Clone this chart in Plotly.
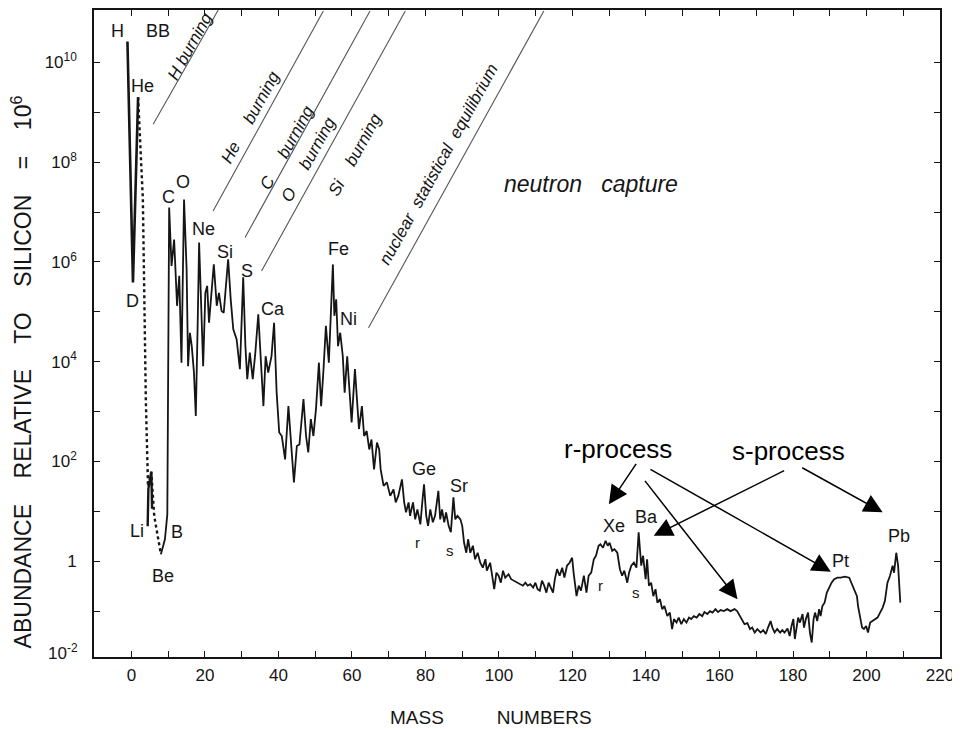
import plotly.graph_objects as go

# ---------------- data ----------------
# H -> D -> He (solid)
light_mass = [-1.1, 0.4, 1.8]
light_log = [10.42, 5.59, 9.30]

# He -> Li -> Be (dashed)
dashed_mass = [1.8, 3.1, 3.9, 4.5, 5.4, 6.2, 8.0]
dashed_log = [9.30, 7.25, 3.25, 1.50, 1.78, 0.90, 0.14]

# Li (short solid piece)
li_mass = [4.4, 4.6, 5.4, 5.6]
li_log = [0.70, 1.45, 1.80, 1.05]

# main abundance curve, Be -> Bi
mass = [
    8.0, 9.1, 9.75, 10.25, 10.9, 11.6, 12.4, 13.0, 13.6, 14.3,
    15.0, 15.4, 15.9, 16.4, 17.0, 17.5, 18.0, 18.4, 19.0, 19.5,
    20.1, 20.6, 21.1, 21.8, 22.4, 23.2, 23.8, 24.5, 25.1, 25.7,
    26.3, 27.0, 27.7, 28.6, 29.5, 30.4, 31.0, 31.5, 32.2, 33.0,
    33.7, 34.5, 35.1, 35.9, 36.5, 37.2, 38.1, 38.8, 39.5, 40.2,
    40.9, 41.8, 42.7, 43.6, 44.2, 45.0, 45.7, 46.8, 47.5, 48.1,
    48.8, 49.5, 50.2, 51.0, 51.6, 52.2, 52.9, 53.7, 54.2, 54.8,
    55.2, 55.7, 56.2, 56.8, 57.5, 58.0, 58.7, 59.3, 59.9, 60.8,
    61.4, 61.9, 62.7, 63.3, 64.0, 64.7, 65.3, 66.0, 66.8, 67.4,
    67.8, 68.6, 69.5, 70.4, 71.3, 71.9, 72.6, 73.6, 74.2, 74.7,
    75.4, 75.8, 76.6, 77.2, 77.8, 78.6, 79.2, 79.6, 80.2, 80.7,
    81.3, 82.0, 82.6, 83.5, 84.0, 84.5, 85.1, 85.6, 86.3, 86.9,
    87.6, 88.1, 88.7, 89.5, 90.0, 90.5, 91.1, 91.6, 92.2, 92.9,
    93.5, 94.2, 94.9, 95.6, 96.3, 96.7, 97.6, 98.1, 98.7, 99.3,
    99.9, 100.5, 101.1, 101.7, 102.6, 103.3, 104.0, 104.9, 105.8, 106.5,
    107.2, 107.8, 108.5, 109.3, 109.9, 110.5, 111.1, 111.7, 112.3, 112.9,
    113.5, 114.2, 114.7, 115.2, 115.8, 116.5, 117.2, 117.8, 118.5, 119.2,
    119.9, 120.3, 121.1, 121.7, 122.3, 123.1, 123.8, 124.4, 125.1, 125.8,
    126.4, 127.1, 127.6, 128.3, 129.0, 129.6, 130.1, 130.8, 131.4, 132.2,
    132.9, 133.5, 134.1, 134.9, 135.4, 136.0, 136.7, 137.4, 138.0, 138.7,
    139.2, 139.9, 140.3, 140.8, 141.4, 142.0, 142.6, 143.1, 143.8, 144.4,
    145.0, 145.8, 146.5, 147.1, 147.6, 148.3, 148.9, 149.6, 150.3, 151.0,
    151.7, 152.3, 153.0, 153.8, 154.5, 155.3, 155.9, 156.7, 157.4, 158.1,
    158.9, 159.6, 160.3, 161.2, 162.1, 163.0, 164.1, 164.8, 165.6, 166.2,
    166.8, 167.6, 168.3, 168.9, 169.6, 170.3, 171.2, 171.9, 172.6, 173.2,
    173.9, 174.4, 175.0, 175.7, 176.5, 177.1, 177.7, 178.5, 179.1, 179.6,
    180.1, 180.5, 181.0, 181.4, 181.9, 182.6, 183.0, 183.5, 184.1, 184.6,
    185.1, 185.6, 186.0, 186.6, 187.1, 187.5, 188.0, 188.6, 189.2, 189.8,
    190.5, 191.2, 192.1, 193.0, 194.1, 195.3, 195.9, 196.6, 197.4, 197.7,
    198.3, 198.8, 199.3, 199.9, 200.4, 201.0, 201.6, 202.3, 203.0, 203.7,
    204.4, 205.0, 205.7, 206.4, 207.1, 207.5, 208.1, 208.6, 209.2,
]
log_abundance = [
    0.14, 0.44, 0.94, 7.09, 5.92, 6.45, 5.12, 5.72, 3.98, 7.25,
    5.85, 3.91, 4.58, 4.31, 3.78, 2.91, 4.72, 6.39, 5.05, 3.91,
    5.38, 5.52, 4.78, 5.52, 5.95, 5.12, 5.38, 5.02, 4.98, 5.52,
    6.05, 5.25, 4.65, 4.45, 3.85, 5.69, 4.31, 3.65, 4.18, 3.65,
    4.18, 4.95, 4.05, 3.11, 4.11, 3.78, 4.11, 4.78, 3.38, 2.58,
    2.51, 2.04, 3.11, 2.18, 1.58, 2.31, 2.34, 3.25, 2.51, 2.18,
    2.85, 2.51, 3.05, 3.98, 3.11, 3.78, 4.72, 3.98, 4.78, 5.95,
    4.92, 5.25, 4.31, 4.58, 4.11, 3.38, 4.11, 3.51, 2.78, 3.85,
    3.25, 2.65, 3.11, 2.51, 2.61, 2.24, 2.44, 1.84, 2.38, 2.24,
    1.84, 1.51, 1.58, 1.31, 1.44, 1.18, 1.31, 1.64, 1.18, 0.98,
    1.18, 0.91, 1.18, 0.84, 1.04, 0.74, 1.24, 1.54, 0.91, 0.71,
    1.04, 0.78, 0.91, 1.41, 0.84, 1.04, 0.78, 0.98, 0.71, 0.58,
    1.28, 0.84, 0.91, 0.84, 0.71, 0.37, 0.17, 0.44, 0.17, 0.31,
    0.04, 0.17, -0.03, -0.13, 0.04, -0.19, -0.03, -0.29, -0.56, -0.23,
    -0.29, -0.43, -0.19, -0.33, -0.26, -0.36, -0.39, -0.43, -0.46, -0.49,
    -0.43, -0.49, -0.46, -0.53, -0.43, -0.56, -0.59, -0.39, -0.49, -0.63,
    -0.43, -0.53, -0.63, -0.36, -0.16, -0.29, -0.13, -0.33, -0.09, -0.03,
    0.07, -0.23, -0.70, -0.49, -0.59, -0.29, -0.63, -0.29, -0.23, 0.04,
    0.11, 0.31, 0.34, 0.27, 0.41, 0.31, 0.37, 0.21, 0.24, 0.17,
    -0.16, -0.29, -0.19, -0.43, -0.23, -0.09, -0.03, -0.13, 0.58, -0.09,
    0.11, -0.36, 0.04, -0.49, -0.43, -0.70, -0.56, -0.83, -0.76, -0.96,
    -0.90, -1.10, -1.03, -1.36, -1.16, -1.23, -1.13, -1.26, -1.16, -1.23,
    -1.13, -1.16, -1.10, -1.13, -1.06, -1.10, -1.02, -1.06, -1.00, -1.03,
    -0.96, -1.02, -0.98, -1.00, -0.96, -1.00, -0.96, -1.00, -1.10, -1.16,
    -1.26, -1.24, -1.36, -1.33, -1.43, -1.36, -1.43, -1.38, -1.46, -1.33,
    -1.20, -1.33, -1.43, -1.36, -1.43, -1.38, -1.43, -1.35, -1.50, -1.30,
    -1.16, -1.56, -1.30, -1.13, -1.23, -1.06, -1.33, -1.16, -1.03, -1.43,
    -1.63, -1.16, -1.03, -1.20, -0.96, -1.10, -0.90, -0.83, -0.63, -0.53,
    -0.43, -0.36, -0.33, -0.33, -0.31, -0.33, -0.43, -0.56, -0.70, -0.90,
    -1.10, -1.33, -1.36, -1.30, -1.43, -1.23, -1.20, -1.16, -1.13, -1.03,
    -0.93, -0.80, -0.43, -0.29, -0.09, -0.23, 0.17, -0.09, -0.83,
]
assert len(mass) == len(log_abundance)

# diagonal process-boundary lines (mass, log10 abundance) at both ends
boundary_mass = [[5.9, 23.6], [22.2, 52.2], [30.9, 64.9], [35.4, 74.5], [64.5, 112.2]]
boundary_log = [[8.76, 11.05], [7.02, 11.03], [6.49, 11.03], [5.82, 11.03], [4.68, 11.03]]

# element labels: text, mass position, log10 position
element_text = ["H", "BB", "He", "D", "Li", "Be", "B", "C", "O", "Ne", "Si", "S", "Ca",
                "Fe", "Ni", "Ge", "Sr", "r", "s", "Xe", "r", "Ba", "s", "Pt", "Pb"]
element_x = [-3.7, 7.2, 3.1, 0.35, 1.4, 8.6, 12.3, 10.0, 14.1, 19.5, 25.4, 31.3, 38.6,
             56.2, 59.0, 79.5, 89.0, 77.7, 86.7, 131.2, 127.6, 140.1, 137.4, 193.0, 208.9]
element_y = [10.62, 10.62, 9.52, 5.21, 0.61, -0.29, 0.58, 7.31, 7.60, 6.65, 6.19, 5.81, 5.05,
             6.25, 4.85, 1.84, 1.51, 0.37, 0.21, 0.71, -0.49, 0.88, -0.63, 0.01, 0.51]

# rotated process texts
process_text = ["H burning", "He     burning", "C     burning", "O     burning",
                "Si    burning", "nuclear  statistical  equilibrium"]
process_x = [15.9, 32.3, 42.3, 48.1, 60.8, 83.5]
process_y = [10.32, 8.90, 8.30, 8.06, 8.16, 7.96]

# arrows (tail -> head)
arrow_tail_x = [137.6, 139.4, 140.8, 178.0, 182.1]
arrow_tail_y = [1.98, 1.64, 1.86, 1.83, 1.89]
arrow_head_x = [129.9, 164.9, 190.3, 142.1, 204.4]
arrow_head_y = [1.14, -0.76, -0.21, 0.51, 0.98]

y_major_exp = [0, 2, 4, 6, 8, 10]
y_major_text = ["1", "10<sup>2</sup>", "10<sup>4</sup>", "10<sup>6</sup>",
                "10<sup>8</sup>", "10<sup>10</sup>"]
y_minor_exp = [-1, 1, 3, 5, 7, 9]
x_major = list(range(0, 221, 20))
x_minor = list(range(10, 220, 20))

FONT = "Liberation Sans, Arial, sans-serif"
INK = "#151515"

# ---------------- figure ----------------
fig = go.Figure()

fig.add_trace(go.Scatter(x=light_mass, y=[10 ** v for v in light_log], mode="lines",
                         line=dict(color=INK, width=2.6), hoverinfo="skip"))
fig.add_trace(go.Scatter(x=dashed_mass, y=[10 ** v for v in dashed_log], mode="lines",
                         line=dict(color=INK, width=2.4, dash="dot"), hoverinfo="skip"))
fig.add_trace(go.Scatter(x=li_mass, y=[10 ** v for v in li_log], mode="lines",
                         line=dict(color=INK, width=2.4), hoverinfo="skip"))
fig.add_trace(go.Scatter(x=mass, y=[10 ** v for v in log_abundance], mode="lines",
                         line=dict(color=INK, width=1.8), hoverinfo="skip"))

for bx, by in zip(boundary_mass, boundary_log):
    fig.add_trace(go.Scatter(x=bx, y=[10 ** v for v in by], mode="lines",
                             line=dict(color="#555555", width=1.1), hoverinfo="skip"))

annotations = []
for t, x, y in zip(element_text, element_x, element_y):
    small = t in ("r", "s")
    annotations.append(dict(x=x, y=y, xref="x", yref="y", text=t, showarrow=False,
                            font=dict(family=FONT, size=15 if small else 18, color=INK)))

for t, x, y in zip(process_text, process_x, process_y):
    annotations.append(dict(x=x, y=y, xref="x", yref="y", text="<i>" + t + "</i>",
                            showarrow=False, textangle=-61,
                            font=dict(family=FONT, size=17, color=INK)))

annotations.append(dict(x=124.9, y=7.56, xref="x", yref="y",
                        text="<i>neutron   capture</i>", showarrow=False,
                        font=dict(family=FONT, size=23, color=INK)))

annotations.append(dict(x=132.5, y=2.24, xref="x", yref="y", text="r-process",
                        showarrow=False, font=dict(family=FONT, size=26, color="#000000")))
annotations.append(dict(x=178.8, y=2.20, xref="x", yref="y", text="s-process",
                        showarrow=False, font=dict(family=FONT, size=26, color="#000000")))

for tx, ty, hx, hy in zip(arrow_tail_x, arrow_tail_y, arrow_head_x, arrow_head_y):
    annotations.append(dict(x=hx, y=hy, xref="x", yref="y", ax=tx, ay=ty,
                            axref="x", ayref="y", text="", showarrow=True,
                            arrowhead=2, arrowsize=2.5, arrowwidth=1.5,
                            arrowcolor="#000000", standoff=0))

# axis titles and the bottom tick label of the y axis
annotations.append(dict(x=-0.085, y=0.44, xref="paper", yref="paper",
                        xanchor="center", yanchor="middle",
                        text="ABUNDANCE    RELATIVE    TO    SILICON    =    10<sup>6</sup>",
                        showarrow=False, textangle=-90,
                        font=dict(family=FONT, size=23, color=INK)))
annotations.append(dict(x=0.469, y=-0.094, xref="paper", yref="paper",
                        xanchor="center", yanchor="middle",
                        text="MASS          NUMBERS", showarrow=False,
                        font=dict(family=FONT, size=19, color=INK)))
annotations.append(dict(x=-0.0165, y=0.008, xref="paper", yref="paper",
                        xanchor="right", yanchor="middle",
                        text="10<sup>-2</sup>", showarrow=False,
                        font=dict(family=FONT, size=17, color=INK)))

# the page adds an 8 px body margin, so the figure is 8 px smaller than the window
fig.update_layout(
    template="none",
    width=952, height=721,
    margin=dict(l=86, r=20, t=2, b=72),
    paper_bgcolor="white", plot_bgcolor="white",
    showlegend=False,
    annotations=annotations,
    xaxis=dict(range=[-10.2, 220], tickvals=x_major, ticktext=[str(v) for v in x_major],
               ticks="inside", ticklen=6, tickwidth=1.3, tickcolor=INK,
               minor=dict(tickvals=x_minor, ticks="inside", ticklen=6, tickwidth=1.3,
                          tickcolor=INK, showgrid=False),
               showline=True, linecolor=INK, linewidth=1.6, mirror="ticks",
               showgrid=False, zeroline=False, ticklabelstandoff=2,
               ticklabeloverflow="allow", automargin=False,
               tickfont=dict(family=FONT, size=17, color=INK)),
    yaxis=dict(type="log", range=[-1.92, 11.05],
               tickvals=[10 ** e for e in y_major_exp], ticktext=y_major_text,
               ticks="inside", ticklen=6, tickwidth=1.3, tickcolor=INK,
               minor=dict(tickvals=[10 ** e for e in y_minor_exp], ticks="inside",
                          ticklen=6, tickwidth=1.3, tickcolor=INK, showgrid=False),
               showline=True, linecolor=INK, linewidth=1.6, mirror="ticks",
               showgrid=False, zeroline=False, ticklabelstandoff=12,
               automargin=False,
               tickfont=dict(family=FONT, size=17, color=INK)),
)

fig.write_html("out.html")
